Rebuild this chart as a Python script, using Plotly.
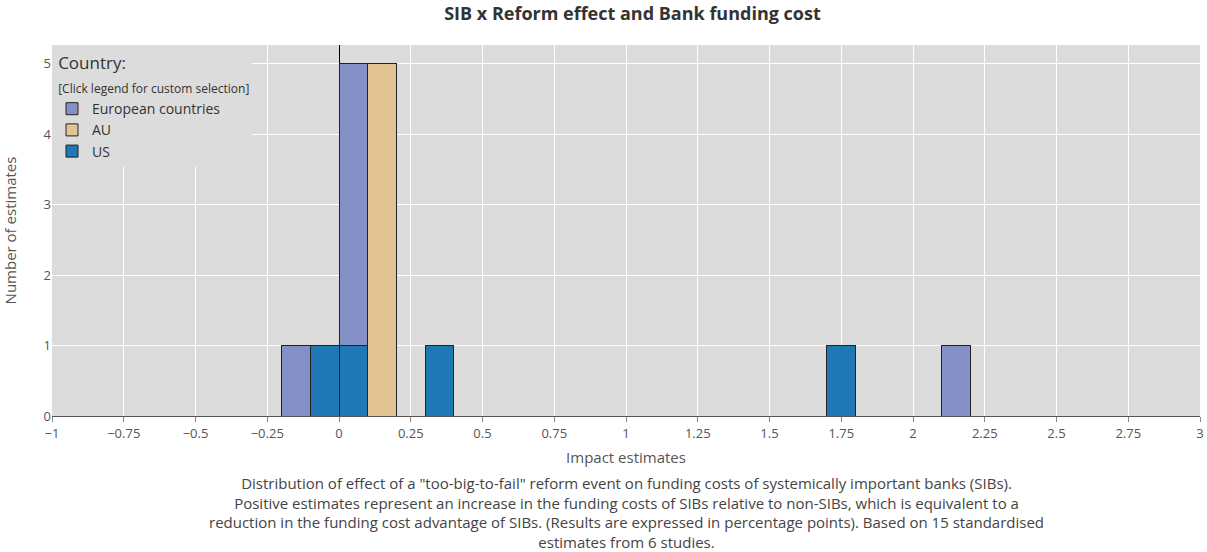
import plotly.graph_objects as go

# Bin centres (bin width 0.1) and counts per country group
bin_width = 0.1
eu_bins = [-0.15, 0.05, 2.15]
eu_counts = [1, 4, 1]
au_bins = [0.15]
au_counts = [5]
us_bins = [-0.05, 0.05, 0.35, 1.75]
us_counts = [1, 1, 1, 1]

x_ticks = [-1, -0.75, -0.5, -0.25, 0, 0.25, 0.5, 0.75, 1, 1.25, 1.5, 1.75, 2, 2.25, 2.5, 2.75, 3]
x_tick_text = ["\u22121", "\u22120.75", "\u22120.5", "\u22120.25", "0", "0.25", "0.5", "0.75", "1",
               "1.25", "1.5", "1.75", "2", "2.25", "2.5", "2.75", "3"]

caption = ('Distribution of effect of a "too-big-to-fail" reform event on funding costs of systemically important banks (SIBs).<br>'
           'Positive estimates represent an increase in the funding costs of SIBs relative to non-SIBs, which is equivalent to a<br>'
           'reduction in the funding cost advantage of SIBs. (Results are expressed in percentage points). Based on 15 standardised<br>'
           'estimates from 6 studies.')

line = dict(color="#222222", width=1)

fig = go.Figure()
fig.add_trace(go.Bar(x=us_bins, y=us_counts, width=bin_width, name="US",
                     marker=dict(color="#1f77b4", line=line), legendrank=3))
fig.add_trace(go.Bar(x=eu_bins, y=eu_counts, width=bin_width, name="European countries",
                     marker=dict(color="#8591c6", line=line), legendrank=1))
fig.add_trace(go.Bar(x=au_bins, y=au_counts, width=bin_width, name="AU",
                     marker=dict(color="#e2c492", line=line), legendrank=2))

legend_title = ("<span style='font-size:16px'>&nbsp;</span><span style='font-size:17px'>Country:</span><br>"
                "<span style='font-size:16px'>&nbsp;</span>"
                "<span style='font-size:12px;color:#333'>[Click legend for custom selection]</span>")

fig.update_layout(
    width=1207, height=552,
    barmode="stack",
    paper_bgcolor="white",
    plot_bgcolor="#dcdcdc",
    font=dict(family="Open Sans", color="#555555", size=13),
    margin=dict(l=52, r=7, t=45, b=136, autoexpand=False),
    title=dict(text="<b>SIB x Reform effect and Bank funding cost</b>", x=0.524, xanchor="center",
               y=0.986, yanchor="top", font=dict(size=18, color="#333333")),
    legend=dict(x=0.0, y=1.0, xanchor="left", yanchor="top", bgcolor="#dcdcdc",
                title=dict(text=legend_title, font=dict(size=18.5, color="#333333")),
                font=dict(size=14, color="#333333"), traceorder="normal", tracegroupgap=2),
    xaxis=dict(range=[-1, 3], tickvals=x_ticks, ticktext=x_tick_text, ticks="outside", ticklen=5,
               tickcolor="#888888", gridcolor="white", gridwidth=1, zeroline=True, zerolinecolor="black",
               zerolinewidth=1, showline=True, linecolor="#555555", linewidth=1, automargin=False,
               title=dict(text="Impact estimates", font=dict(size=15), standoff=11),
               tickfont=dict(size=13)),
    yaxis=dict(dtick=1, gridcolor="white", gridwidth=1, zeroline=False, automargin=False,
               title=dict(text="Number of estimates", font=dict(size=15), standoff=24), tickfont=dict(size=13)),
    annotations=[dict(text=caption, xref="paper", yref="paper", x=0.5, y=-0.148, xanchor="center",
                      yanchor="top", showarrow=False, align="center", font=dict(size=15, color="#444444"))],
)

fig.write_html("out.html", config={"displayModeBar": False},
               post_script="document.body.style.margin='0';")
